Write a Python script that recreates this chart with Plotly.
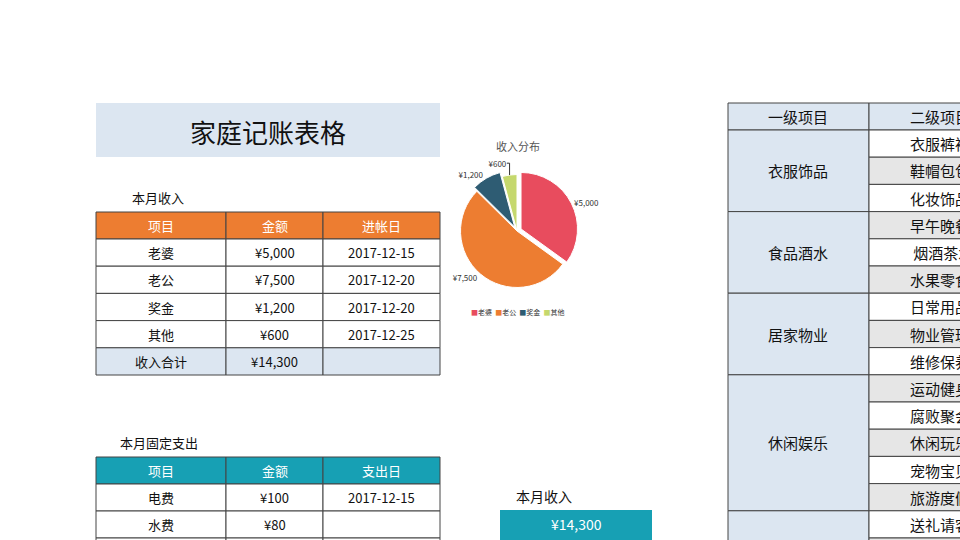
import plotly.graph_objects as go

income_items = ["老婆", "老公", "奖金", "其他"]
income_values = [5000, 7500, 1200, 600]
income_dates = ["2017-12-15", "2017-12-20", "2017-12-20", "2017-12-25"]
income_total = sum(income_values)
fixed_items = ["电费", "水费"]
fixed_values = [100, 80]
fixed_dates = ["2017-12-15", ""]
cat1 = ["衣服饰品", "食品酒水", "居家物业", "休闲娱乐", ""]
cat1_rows = [3, 3, 3, 5, 2]
cat2 = ["衣服裤袜", "鞋帽包包", "化妆饰品", "早午晚餐", " 烟酒茶水", "水果零食", "日常用品", "物业管理",
        "维修保养", "运动健身", "腐败聚会", "休闲玩乐", "宠物宝贝", "旅游度假", "送礼请客", ""]
pie_colors = ["#E84C5E", "#ED7D31", "#2E5C73", "#C5D86D"]

F = "Noto Sans CJK SC, Noto Sans, sans-serif"
BL = "#DCE6F1"
shapes, ann = [], []

def rect(x0, y0, x1, y1, fill, line=True):
    shapes.append(dict(type="rect", xref="x", yref="y", x0=x0, y0=y0, x1=x1, y1=y1,
                       fillcolor=fill, line=dict(color="#444" if line else "rgba(0,0,0,0)", width=1), layer="below"))

def text(x, y, t, size=13, color="#111", anchor="center"):
    ann.append(dict(x=x, y=y, xref="x", yref="y", text=t, showarrow=False, xanchor=anchor,
                    font=dict(family=F, size=size, color=color)))

money = lambda v: "¥{:,}".format(v)

# title
rect(96, 103, 440, 157, BL, line=False)
text(268, 131, "家庭记账表格", 26)

# income table
cols = [96, 226, 323, 440]
text(186, 197, "本月收入", 13, anchor="right")
hdr = ["项目", "金额", "进帐日"]
for i in range(3):
    rect(cols[i], 212, cols[i+1], 239, "#ED7D31")
    text((cols[i]+cols[i+1])/2, 225.5, hdr[i], 13, "white")
rows = [[income_items[k], money(income_values[k]), income_dates[k]] for k in range(4)]
rows.append(["收入合计", money(income_total), ""])
for r, row in enumerate(rows):
    y0 = 239 + r*27.2
    for i in range(3):
        rect(cols[i], y0, cols[i+1], y0+27.2, BL if r == 4 else "white")
        text((cols[i]+cols[i+1])/2, y0+13.6, row[i], 13)

# fixed expenses
text(200, 442, "本月固定支出", 13, anchor="right")
hdr2 = ["项目", "金额", "支出日"]
for i in range(3):
    rect(cols[i], 457, cols[i+1], 484, "#17A0B4")
    text((cols[i]+cols[i+1])/2, 470.5, hdr2[i], 13, "white")
for r in range(3):
    y0 = 484 + r*27
    row = [fixed_items[r], money(fixed_values[r]), fixed_dates[r]] if r < 2 else ["", "", ""]
    for i in range(3):
        rect(cols[i], y0, cols[i+1], y0+27, "white")
        text((cols[i]+cols[i+1])/2, y0+13.5, row[i], 13)

# summary box
text(544, 496, "本月收入", 14)
rect(500, 510, 652, 545, "#17A0B4", line=False)
text(576, 524, money(income_total), 14, "white")

# right table
c = [728, 869, 1000]
rect(c[0], 103, c[1], 130, BL); text(798, 116.5, "一级项目", 15)
rect(c[1], 103, c[2], 130, BL); text(908, 116.5, "二级项目", 15, anchor="left")
y = 130
h = 27.2
for name, n in zip(cat1, cat1_rows):
    rect(c[0], y, c[1], y+n*h, BL)
    text(798, y+n*h/2, name, 15)
    y += n*h
for k, name in enumerate(cat2):
    y0 = 130 + k*h
    rect(c[1], y0, c[2], y0+h, "#E6E6E6" if k % 2 else "white")
    text(908, y0+h/2, name, 15, anchor="left")

# pie
ann.append(dict(x=518, y=146, xref="x", yref="y", text="收入分布", showarrow=False,
                font=dict(family=F, size=11, color="#555")))
legend_txt = "  ".join(f"<span style='color:{col}'>■</span>{n}" for n, col in zip(income_items, pie_colors))
ann.append(dict(x=517, y=312, xref="x", yref="y", text=legend_txt, showarrow=False,
                font=dict(family=F, size=7, color="#333")))

fig = go.Figure()
fig.add_trace(go.Pie(labels=income_items, values=income_values, sort=False, direction="clockwise",
                     marker=dict(colors=pie_colors, line=dict(color="white", width=1)),
                     pull=[0.08, 0, 0.08, 0], texttemplate="¥%{value:,}", textposition="outside",
                     textfont=dict(size=8, color="#333", family=F), showlegend=False,
                     domain=dict(x=[452/960, 582/960], y=[1-292/540, 1-170/540])))
fig.update_layout(width=960, height=540, margin=dict(l=0, r=0, t=0, b=0), plot_bgcolor="white",
                  paper_bgcolor="white", shapes=shapes, annotations=ann,
                  xaxis=dict(range=[0, 960], visible=False, fixedrange=True),
                  yaxis=dict(range=[540, 0], visible=False, fixedrange=True))
fig.write_html("out.html", config={"displayModeBar": False},
               post_script="document.body.style.margin='0';document.body.style.overflow='hidden';")
